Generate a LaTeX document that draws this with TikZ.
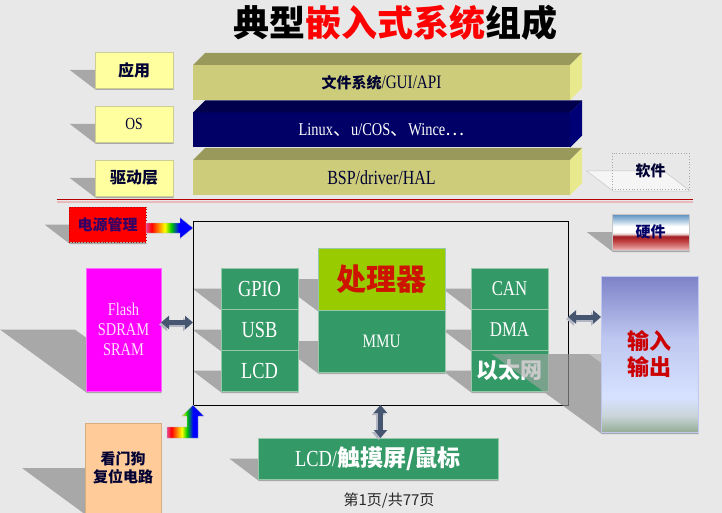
\documentclass[tikz,border=0pt]{standalone}
\usepackage{fontspec}
\setmainfont{Liberation Serif}
\newfontfamily\cjk{Noto Sans CJK SC}
\newfontfamily\narrow[FakeStretch=0.8]{Liberation Serif}
\usepackage{tikz}
\usetikzlibrary{arrows.meta,positioning,calc}

\definecolor{bgc}{RGB}{232,232,232}
\definecolor{shadowc}{RGB}{168,168,168}
\definecolor{labely}{RGB}{255,255,160}
\definecolor{labeledge}{RGB}{205,205,150}
\definecolor{olivefront}{RGB}{204,204,122}
\definecolor{olivetop}{RGB}{153,153,92}
\definecolor{oliveside}{RGB}{232,232,140}
\definecolor{navyfront}{RGB}{0,0,102}
\definecolor{navytop}{RGB}{0,0,76}
\definecolor{navyside}{RGB}{0,0,118}
\definecolor{chipgreen}{RGB}{51,153,102}
\definecolor{chipedge}{RGB}{150,200,170}
\definecolor{cpulime}{RGB}{153,204,0}
\definecolor{cpured}{RGB}{204,20,0}
\definecolor{memmag}{RGB}{255,0,255}
\definecolor{memtext}{RGB}{255,225,255}
\definecolor{dogpeach}{RGB}{255,204,153}
\definecolor{inktext}{RGB}{0,0,51}
\definecolor{powerink}{RGB}{51,0,102}
\definecolor{arrowc}{RGB}{70,85,112}
\definecolor{arrowshade}{RGB}{178,182,194}
\definecolor{titlered}{RGB}{255,0,0}
\definecolor{iored}{RGB}{204,0,0}
\definecolor{linered}{RGB}{180,0,0}
\definecolor{linepink}{RGB}{235,185,185}
\definecolor{footink}{RGB}{40,40,40}
\definecolor{rbpink}{RGB}{235,70,140}
\definecolor{rbgreen}{RGB}{0,200,0}
\definecolor{iobot}{RGB}{150,172,150}
\definecolor{iolow}{RGB}{200,212,215}
\definecolor{iolight}{RGB}{215,225,255}
\definecolor{iomid}{RGB}{190,200,240}
\definecolor{iotop}{RGB}{125,130,200}
\definecolor{hwpink}{RGB}{240,185,185}
\definecolor{hwrose}{RGB}{220,130,130}
\definecolor{hwdark}{RGB}{190,60,60}
\definecolor{hwred}{RGB}{160,30,35}
\definecolor{hwpale}{RGB}{230,200,200}
\definecolor{hwsky}{RGB}{170,200,225}
\definecolor{hwblue}{RGB}{90,140,190}

\pgfdeclarehorizontalshading{rainbow}{100bp}{color(0bp)=(rbpink); color(25bp)=(rbpink); color(31bp)=(red); color(38bp)=(orange); color(45bp)=(yellow); color(52bp)=(rbgreen); color(60bp)=(blue); color(100bp)=(blue)}
\pgfdeclareverticalshading{iograd}{100bp}{color(0bp)=(iobot); color(25bp)=(iobot); color(30bp)=(iolow); color(36bp)=(iolight); color(55bp)=(iomid); color(75bp)=(iotop); color(100bp)=(iotop)}
\pgfdeclareverticalshading{hwgrad}{100bp}{color(0bp)=(hwpink); color(25bp)=(hwpink); color(30bp)=(hwrose); color(38bp)=(hwdark); color(44bp)=(hwred); color(47bp)=(hwpale); color(50bp)=(white); color(58bp)=(white); color(66bp)=(hwsky); color(75bp)=(hwblue); color(100bp)=(hwblue)}

\pgfdeclarelayer{back}
\pgfdeclarelayer{shade}
\pgfsetlayers{back,shade,main}

% sheared drop shadow of a box, to the lower left
\newcommand{\castshadow}[2][fill=shadowc]{%
  \path[#1] let \p1=(#2.south west), \p2=(#2.north east), \n1={0.5*(\y2-\y1)} in
    ({\x1-1.4*\n1},{\y1+\n1}) -- ({\x2-1.4*\n1},{\y1+\n1}) -- ({\x2+1},{\y1-2}) -- ({\x1+1},{\y1-2}) -- cycle;}
% only the part left of the box
\newcommand{\wedgeshadow}[2][fill=shadowc]{%
  \path[#1] let \p1=(#2.south west), \p2=(#2.north east), \n1={0.5*(\y2-\y1)} in
    ({\x1-1.4*\n1},{\y1+\n1}) -- (\x1,{\y1+\n1}) -- (\x1,{\y1-2}) -- ({\x1+1},{\y1-2}) -- cycle;}
% top and side faces of a layer slab
\newcommand{\slabfaces}[3]{%
  \fill[#2] (#1.north west) -- ++(12,-12) -- ([shift={(12,-12)}]#1.north east) -- (#1.north east) -- cycle;
  \fill[#3] (#1.north east) -- ++(12,-12) -- ([shift={(12,-12)}]#1.south east) -- (#1.south east) -- cycle;}

\begin{document}
\begin{tikzpicture}[x=1pt, y=-1pt, node distance=12.5pt,
  every node/.style={inner sep=0pt, outer sep=0pt},
  tag/.style={draw=labeledge, fill=labely, minimum width=78pt, minimum height=36pt, text=inktext, font=\cjk\bfseries\fontsize{16}{18}\selectfont},
  slab/.style={minimum width=377pt, minimum height=35pt},
  chip/.style={draw=chipedge, line width=0.8pt, fill=chipgreen, minimum width=77pt, minimum height=41pt, text=white, font=\narrow\fontsize{23}{25}\selectfont},
  tinybox/.style={minimum width=77pt, minimum height=36pt, text=inktext, font=\cjk\bfseries\fontsize{15}{17}\selectfont},
  dblarr/.style={{Triangle[width=13pt,length=8pt]}-{Triangle[width=13pt,length=8pt]}, line width=5pt, draw=arrowc},
  arrshadow/.style={dblarr, draw=arrowshade, transform canvas={shift={(-2pt,-2pt)}}},
  rainarr/.style={shading=rainbow, draw=arrowshade, line width=0.4pt}]
\useasboundingbox (0,0) rectangle (722,513);
\begin{pgfonlayer}{back}
\fill[bgc] (0,0) rectangle (722,513);
\end{pgfonlayer}

\node[font=\cjk\bfseries\fontsize{36}{40}\selectfont] (title) at (395,23) {典型\textcolor{titlered}{嵌入式系统}组成};

% software layers
\node[tag, anchor=north west] (appl) at (95,52) {应用};
\node[tag, below=18pt of appl, font=\narrow\fontsize{17}{19}\selectfont] (osl) {OS};
\node[tag, below=18pt of osl] (drvl) {驱动层};

\node[slab, fill=olivefront, anchor=north west, text=inktext, font=\narrow\fontsize{19}{21}\selectfont] (appbar) at (193,65) {{\cjk\bfseries\fontsize{15}{17}\selectfont 文件系统}/GUI/API};
\node[slab, fill=navyfront, below=of appbar, text=white, font=\narrow\fontsize{18}{20}\selectfont] (osbar) {Linux{\cjk 、}u/COS{\cjk 、}Wince{\cjk …}};
\node[slab, fill=olivefront, below=of osbar, text=inktext, font=\narrow\fontsize{20}{22}\selectfont] (drvbar) {BSP/driver/HAL};
\slabfaces{appbar}{olivetop}{oliveside}
\slabfaces{osbar}{navytop}{navyside}
\slabfaces{drvbar}{olivetop}{oliveside}

\node[tinybox, draw=gray!70, dotted, line width=0.8pt, anchor=north west] (soft) at (612,153) {软件};

\draw[linered, line width=1.3pt] (57,199.5) -- (693,199.5);
\draw[linepink, line width=1.5pt] (57,201.8) -- (693,201.8);

% hardware
\node[tinybox, shade, shading=hwgrad, draw=gray!45, anchor=north west, text=navyfront] (hard) at (612,214) {硬件};
\node[tinybox, fill=red, draw=linered, dotted, line width=0.8pt, text=powerink, minimum height=35pt, anchor=north west] (power) at (69,207) {电源管理};

\node[draw=black, line width=0.8pt, minimum width=375pt, minimum height=184pt, anchor=north west] (main) at (193,221) {};

\node[draw=memmag!60!white, fill=memmag, minimum width=75pt, minimum height=123pt, align=center, text=memtext, font=\narrow\fontsize{18}{20}\selectfont, anchor=north west] (mem) at (86,268) {Flash\\SDRAM\\SRAM};

\node[chip, anchor=north west] (gpio) at (221,268) {GPIO};
\node[chip, below=0pt of gpio] (usb) {USB};
\node[chip, below=0pt of usb] (lcd) {LCD};

\node[chip, fill=cpulime, minimum width=127pt, minimum height=62pt, text=cpured, font=\cjk\bfseries\fontsize{30}{32}\selectfont, anchor=north west] (cpu) at (318,248) {处理器};
\node[chip, minimum width=127pt, minimum height=62pt, font=\narrow\fontsize{19}{21}\selectfont, below=0pt of cpu] (mmu) {MMU};

\node[chip, font=\narrow\fontsize{21}{23}\selectfont, anchor=north west] (can) at (471,268) {CAN};
\node[chip, font=\narrow\fontsize{21}{23}\selectfont, below=0pt of can] (dma) {DMA};
\node[chip, font=\cjk\bfseries\fontsize{22}{24}\selectfont, below=0pt of dma] (eth) {以太网};

\node[shade, shading=iograd, draw=iomid, line width=0.8pt, minimum width=97pt, minimum height=156pt, align=center, text=iored, font=\cjk\bfseries\fontsize{22}{26}\selectfont, anchor=north west] (io) at (601,276) {输入\\输出};
\wedgeshadow[fill=shadowc, fill opacity=0.6]{io}

\node[fill=dogpeach, draw=dogpeach!85!black, line width=0.4pt, minimum width=76pt, minimum height=90pt, align=center, text=inktext, font=\cjk\bfseries\fontsize{15}{18}\selectfont, anchor=north west] (dog) at (85,423) {看门狗\\复位电路};

\node[chip, minimum width=240pt, font=\fontsize{23}{25}\selectfont, anchor=north west] (touch) at (258,438) {{\narrow LCD/}{\cjk\bfseries 触摸屏/鼠标}};

\node[font=\cjk\fontsize{15}{17}\selectfont, text=footink] (pageno) at (389,500) {第1页/共77页};

\begin{pgfonlayer}{shade}
\foreach \bx in {appl,osl,drvl,hard,power,mem,gpio,usb,lcd,cpu,mmu,can,dma,eth,io,dog,touch}
  \castshadow{\bx};
\castshadow[fill=white!55!bgc, draw=gray!45, line width=0.5pt]{soft}
\end{pgfonlayer}

% links
\coordinate (memport) at ([yshift=7pt]mem.east);
\coordinate (ioport) at ([yshift=37pt]io.west);
\draw[arrshadow] (memport) -- (memport -| main.west);
\draw[dblarr] (memport) -- (memport -| main.west);
\draw[arrshadow] (ioport) -- (ioport -| main.east);
\draw[dblarr] (ioport) -- (ioport -| main.east);
\draw[arrshadow] (main.south) -- (main.south |- touch.north);
\draw[dblarr] (main.south) -- (main.south |- touch.north);

\coordinate (pwrtail) at ([yshift=-3.5pt]power.east);
\shade[rainarr] let \p1=(pwrtail), \p2=(pwrtail -| main.west) in
  (\x1,{\y1+5}) -- ({\x2-13},{\y1+5}) -- ({\x2-13},{\y1+10.5}) -- (\x2,\y1) -- ({\x2-13},{\y1-10.5}) -- ({\x2-13},{\y1-5}) -- (\x1,{\y1-5}) -- cycle;
\coordinate (dogtail) at ([yshift=-9.5pt]dog.north east);
\shade[rainarr] let \p1=(dogtail), \p2=(main.south west) in
  ({\x1+6},{\y1+5.5}) -- ({\x2-6},{\y1+5.5}) -- ({\x2-6},{\y2-11}) -- ({\x2-11},{\y2-11}) -- (\x2,\y2) -- ({\x2+11},{\y2-11}) -- ({\x2+5},{\y2-11}) -- ({\x2+5},{\y1-5.5}) -- ({\x1+6},{\y1-5.5}) -- cycle;
\end{tikzpicture}
\end{document}
